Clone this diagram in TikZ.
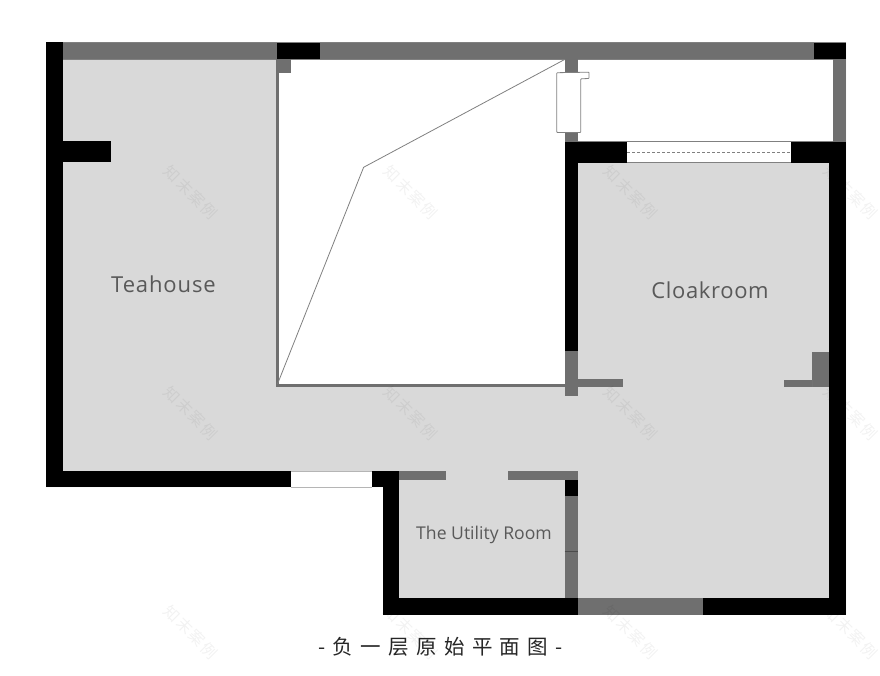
\documentclass[tikz,border=0pt]{standalone}
\usepackage{fontspec}
\setmainfont{Open Sans}
\newfontfamily\cjk[LetterSpace=36]{Noto Sans CJK SC}
\newfontfamily\wm[LetterSpace=12]{Noto Sans CJK SC}
\definecolor{floorc}{HTML}{D9D9D9}
\definecolor{wallg}{HTML}{6F6F6F}
\definecolor{labelc}{HTML}{595959}
\definecolor{edgec}{HTML}{808080}
\tikzset{
  x=1pt,y=-1pt,
  blk/.style={fill=black,draw=none},
  gry/.style={fill=wallg,draw=none},
  roomtext/.style={text=labelc,inner sep=0pt,anchor=center},
  thin edge/.style={draw=edgec,line width=0.8pt},
  mark wm/.style={text=black,opacity=0.05,rotate=-45,inner sep=0pt,font=\wm\fontsize{15.5}{15.5}\selectfont}
}
\begin{document}
\begin{tikzpicture}
\useasboundingbox (0,0) rectangle (880,675);
\fill[white] (0,0) rectangle (880,675);
% floor
\fill[floorc] (46,42) -- (846,42) -- (846,614) -- (383,614) -- (383,487) -- (46,487) -- cycle;
% white voids
\fill[white] (277,59) rectangle (565,385);
\fill[white] (578,59) rectangle (833,142);
% top wall
\fill[gry] (46,42) rectangle (846,59);
\fill[blk] (276.5,42) rectangle (320.3,59);
\fill[blk] (814,42) rectangle (846,59);
\draw[edgec,line width=0.6pt] (46,42) -- (846,42);
\draw[edgec,line width=0.6pt] (62,59.3) -- (846,59.3);
% left wall
\fill[blk] (46,42) rectangle (62.5,487);
\fill[blk] (62,140.5) rectangle (110.7,161.5);
% right wall
\fill[gry] (832.5,59) rectangle (846,142);
\fill[blk] (829,142) rectangle (846,614);
\fill[blk] (791,142) rectangle (846,163);
% upper window
\fill[white] (627.3,142) rectangle (791,162.5);
\draw[edgec,line width=0.8pt] (578,141.7) -- (833,141.7);
\draw[edgec,line width=0.8pt] (627.3,162.7) -- (791,162.7);
\draw[edgec,line width=0.5pt,dash pattern=on 3pt off 2pt] (627.3,152.3) -- (791,152.3);
% central wall
\fill[gry] (564.8,59) rectangle (578.3,142);
\fill[blk] (564.8,142) rectangle (627.3,163);
\fill[blk] (564.8,142) rectangle (578.3,351);
\fill[gry] (564.8,351) rectangle (578.3,395.7);
% niche
\fill[white,draw=edgec,line width=0.8pt,rounded corners=0.6pt] (556.8,72.7) -- (589,72.2) -- (589,78.5) -- (580.8,78.8) -- (580.8,132.4) -- (556.8,132.4) -- cycle;
% void frame
\fill[gry] (276,59) rectangle (291,72.7);
\fill[gry] (276,59) rectangle (279.3,386.7);
\fill[gry] (276,383.6) rectangle (565,386.7);
\draw[thin edge] (277.5,384) -- (363.6,167.3) -- (565,59.3);
% bottom-left wall
\fill[blk] (46,471) rectangle (290.7,487.3);
\fill[white] (290.7,471) rectangle (372.3,487.3);
\draw[floorc!60!gray,line width=0.5pt] (290.7,470.8) -- (372.3,470.8);
\draw[floorc!60!gray,line width=0.5pt] (290.7,487.3) -- (372.3,487.3);
\fill[blk] (372.3,471) rectangle (399.3,487.3);
\fill[blk] (382.8,471) rectangle (399.3,615);
\fill[blk] (382.8,598.3) rectangle (846,615);
\fill[gry] (578.3,598.3) rectangle (703.3,615);
% partition stubs
\fill[gry] (399.3,471) rectangle (446,479.5);
\fill[gry] (507.7,471) rectangle (578.3,479.5);
\fill[blk] (564.5,479.5) rectangle (578.3,495.7);
\fill[gry] (564.5,495.7) rectangle (578.3,598.3);
\draw[black!70,line width=0.5pt] (564.5,551) -- (578.3,551);
\fill[gry] (578.3,379.4) rectangle (623.3,386.7);
\fill[gry] (784,379.6) rectangle (811.7,386.7);
\fill[gry] (811.7,352.3) rectangle (829,386.7);
\draw[black!55,line width=0.4pt] (811.7,379.6) -- (811.7,386.7);
% labels
\node[roomtext,font=\fontsize{22}{22}\selectfont] (tea) at (163.5,284) {\addfontfeature{LetterSpace=4}Teahouse};
\node[roomtext,font=\fontsize{22}{22}\selectfont] (cloak) at (710,290) {\addfontfeature{LetterSpace=3}Cloakroom};
\node[roomtext,font=\fontsize{17.6}{17.6}\selectfont] (util) at (484,535) {The Utility Room};
\node[text=black!85,inner sep=0pt,font=\cjk\fontsize{20.5}{20.5}\selectfont] (cap) at (440.5,647) {-负一层原始平面图-};
% watermarks
\foreach \p in {191,411,631,851}
  \foreach \q in {192.5,413,632}
    \node[mark wm] at (\p,\q) {知末案例};
\end{tikzpicture}
\end{document}
